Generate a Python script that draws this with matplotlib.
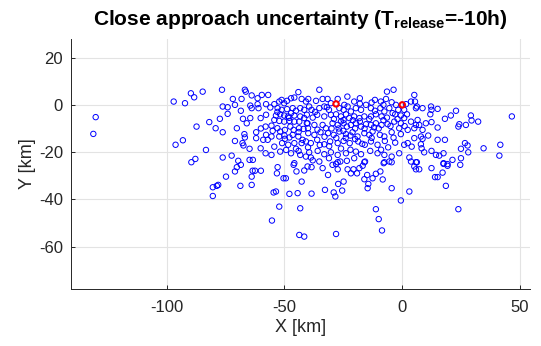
import numpy as np
import matplotlib.pyplot as plt

plt.rcParams['font.family'] = ['Liberation Sans', 'DejaVu Sans']
plt.rcParams['mathtext.fontset'] = 'custom'
plt.rcParams['mathtext.rm'] = 'Liberation Sans'
plt.rcParams['mathtext.bf'] = 'Liberation Sans:bold'
plt.rcParams['axes.unicode_minus'] = False

# close approach samples (km)
x_km = [
    -130.1, -131.1, -97.0, -92.2, -89.7, -88.3, -87.3, -93.1, -96.2, -87.8, -89.5,
    -84.7, -76.5, -66.8, -66.4, -71.9, -68.2, -63.9, -61.4, -59.6, -56.9,
    -76.2, -74.1, -74.1, -71.0, -68.5, -64.5, -63.9, -61.0, -61.4, -57.8, -56.0,
    -54.3, -52.2, -51.2, -50.1, -48.9, -47.2, -45.8, -44.1, -42.7, -40.9,
    -52.9, -51.2, -48.9, -46.5, -47.2, -45.1, -43.3, -41.6,
    -57.8, -53.6, -51.8, -50.1, -48.4, -45.8, -43.3,
    -54.3, -52.2, -50.1, -47.9, -45.8, -43.7, -41.6, -40.5,
    -81.9, -79.2, -77.4, -76.2, -70.2, -67.6, -66.0, -64.5, -60.1, -58.0, -55.5,
    -53.0, -51.8, -49.8, -47.5, -46.1, -43.8, -41.9, -40.0,
    -67.0, -66.8, -62.0, -57.8, -62.0, -59.0, -57.1, -55.5, -52.2, -49.8, -47.9,
    -46.5, -44.1, -42.3, -42.7, -45.8, -48.4, -51.0, -54.3,
    -71.0, -67.8, -67.4, -64.8, -60.1, -58.0, -55.5, -51.8, -49.3, -47.2, -45.1,
    -43.3, -40.9, -83.3, -76.2, -72.4, -69.6, -64.8, -63.4, -45.8,
    -68.5, -70.2, -71.0, -74.8, -78.1, -78.7, -80.4, -80.4, -68.7, -63.9, -63.9,
    -63.5, -62.5, -60.0, -52.9, -53.2, -50.4, -49.4, -54.6, -53.6, -52.2, -55.3,
    -46.1, -44.9, -41.6, -42.7, -47.9, -44.4, -43.3, -43.7, -41.6,
    -35.2, -6.5, -3.7, -39.9, -36.6, -33.8, -31.7, -30.3, -28.1, -27.4, -23.3,
    -20.4, -18.0, -15.4, -11.6, -9.1, -6.9, -4.5, -2.7, 0.0, 1.6, 3.7,
    -39.5, -38.5, -35.2, -33.1, -31.1, -26.7, -24.6, -24.9, -23.2, -21.8, -19.7,
    -17.5, -13.3, -11.6, -9.3, -7.6, -5.5, -1.7, 0.8, 5.8,
    -40.5, -38.0, -36.1, -33.1, -30.3, -28.1, -26.0, -23.9, -24.9, -22.5, -20.4,
    -18.2, -16.1, -13.3, -11.2, -8.8, -6.5, -4.1, -0.6, 0.8, 3.7, 5.8,
    -40.2, -37.3, -33.8, -32.4, -29.6, -27.4, -24.9, -23.5, -21.8, -19.7, -17.5,
    -15.4, -13.3, -11.2, -8.8, -6.2, -3.4, -0.6, -1.3, 2.3, 5.1,
    -39.9, -37.3, -34.7, -31.5, -29.1, -26.7, -23.9, -21.1, -19.0, -16.1, -14.0,
    -12.6, -9.5, -7.6, -4.5, -0.6, 5.1,
    -40.9, -38.8, -36.1, -33.1, -30.6, -27.4, -24.9, -22.3, -18.7, -15.9, -13.3,
    -10.5, -7.4, -3.7, 0.8, 2.3, 4.0,
    -39.5, -35.9, -33.1, -30.3, -27.4, -23.9, -19.7, -17.5, -13.6, -10.5, -7.6,
    -4.5, -1.3, -38.8, -35.2, -31.1, -27.4, -23.5, -20.4, -16.1, -7.6, -4.5,
    3.0, 5.8,
    -40.2, -38.5, -33.8, -31.5, -29.6, -28.1, -27.4, -26.3, -23.2, -21.8, -20.7,
    -19.2, -18.2, -16.8, -15.8, -16.1, -14.9, -14.4, -14.7, -12.6, -11.2, -9.3,
    -8.3, -7.9, -5.5, -4.5, -27.2, -24.9, -25.5, -29.1, -28.4, -32.8, -38.5,
    -28.1, -11.2, -10.0, -8.6, -0.6, 3.0, 5.1, 5.8, 3.7,
    5.1, 5.4, 6.2, 8.6, 12.2, 12.4, 11.9, 15.0, 22.8, 20.6, 18.1, 29.1, 29.4,
    32.2, 27.0, 24.2, 23.8, 46.5, 6.5, 10.0, 12.4, 7.2, 15.0, 8.6, 7.9, 11.0,
    8.6, 15.0, 18.1, 7.9, 8.2, 9.3, 12.4, 14.3, 15.7, 17.5, 24.9, 26.6, 27.7,
    28.0, 24.9, 21.3, 19.2, 17.5, 34.5, 41.6, 41.2, 6.2,
    7.2, 12.4, 13.9, 15.0, 17.1, 17.5, 19.2, 24.6, 18.5, 23.8,
    # packed core
    -29.0, -27.0, -25.0, -22.0, -20.0, -18.0, -16.0, -14.0, -12.0, -21.0, -26.0,
    -30.0, -33.0, -28.0, -24.0, -20.0, -17.0, -13.0, -10.0, -8.0, -5.0, -2.0,
    1.0, -3.0, -6.0, -9.0, -26.0, -22.0, -31.0, -36.0, -37.0, -32.0, -18.0,
    -13.0, -8.0, -3.0, 2.0, -35.0, -40.0, -44.0, -48.0, -50.0, -55.0, -53.0,
    -60.0, -44.0, -38.0,
]
y_km = [
    -5.2, -12.3, 1.4, 0.7, 4.9, 3.2, -9.2, -15.0, -16.9, -22.9, -24.3,
    5.6, 6.4, 6.4, 5.6, 2.5, 2.5, 4.0, 2.8, 4.2, 4.2,
    -0.7, -1.0, -3.8, 0.0, -2.5, -0.3, -1.4, -1.4, 0.3, 0.3, -1.1,
    0.3, 1.4, 2.1, 0.7, 1.7, 2.8, 3.1, 5.4, 2.5, 1.4,
    -1.4, -2.1, -1.8, -1.4, -3.5, -2.5, -1.4, -2.1,
    -4.2, -4.5, -4.0, -4.5, -4.9, -4.5, -4.9,
    -6.4, -6.8, -7.1, -6.8, -7.1, -7.1, -5.6, -7.8,
    -7.3, -9.9, -5.9, -11.6, -9.9, -5.9, -7.8, -5.6, -5.6, -9.2, -8.8,
    -9.9, -11.3, -10.6, -9.2, -10.6, -9.9, -10.2, -9.9,
    -12.4, -13.8, -11.6, -12.7, -14.1, -14.8, -14.8, -13.4, -13.4, -14.4, -13.8,
    -12.7, -13.4, -14.8, -16.2, -16.2, -16.9, -16.2, -17.7,
    -15.3, -16.2, -17.2, -18.6, -18.4, -20.5, -21.2, -19.8, -19.1, -20.5, -18.6,
    -21.2, -21.9, -19.1, -22.3, -21.5, -23.7, -23.3, -23.3, -24.7,
    -25.4, -26.4, -28.2, -30.4, -33.9, -34.3, -34.9, -38.6, -34.3, -30.4, -33.9,
    -27.9, -27.9, -27.9, -26.4, -29.0, -31.1, -31.1, -37.1, -36.7, -43.1, -49.0,
    -25.4, -28.2, -27.8, -32.5, -37.7, -37.4, -43.8, -55.1, -55.8,
    6.4, 5.6, 6.4, 2.5, 1.7, 2.5, 2.5, 0.7, 0.4, 2.5, 3.5,
    1.4, 2.8, 0.0, 2.1, 1.4, 2.5, 1.1, 0.0, 0.0, 0.3, 1.4,
    -0.7, -2.1, -1.4, -0.7, -2.1, -1.4, 0.0, -2.1, -0.7, -2.8, -1.4,
    -2.1, -1.4, -2.5, -1.4, -2.8, -1.4, -2.1, -2.1, -1.4,
    -4.2, -5.4, -4.2, -4.9, -4.2, -4.0, -4.9, -4.0, -6.4, -5.6, -4.9,
    -5.6, -4.9, -4.9, -4.0, -4.9, -5.4, -3.5, -4.5, -5.6, -7.1, -8.5,
    -7.8, -8.5, -8.5, -9.9, -7.8, -8.5, -7.8, -9.2, -8.5, -7.8, -9.2,
    -8.2, -8.5, -7.8, -8.5, -8.2, -7.1, -7.8, -9.9, -10.6, -9.9,
    -12.0, -12.7, -11.6, -12.0, -12.7, -11.3, -12.4, -11.6, -13.4, -12.0, -12.7,
    -11.3, -12.7, -13.4, -11.6, -12.4, -14.1,
    -15.5, -16.2, -14.8, -16.7, -15.5, -16.2, -15.3, -16.2, -15.5, -16.9, -15.5,
    -16.9, -15.3, -13.9, -16.9, -16.2, -17.7,
    -20.1, -19.5, -20.9, -20.1, -21.2, -20.5, -19.8, -20.9, -19.5, -20.5, -21.2,
    -21.9, -20.5, -22.3, -24.0, -22.6, -24.3, -23.7, -22.6, -24.3, -24.3, -24.3,
    -22.3, -24.3,
    -26.1, -26.4, -26.8, -29.7, -25.4, -25.0, -27.3, -24.0, -27.3, -29.0, -27.3,
    -29.0, -26.8, -25.8, -24.0, -31.5, -29.7, -33.5, -35.3, -31.1, -29.2, -28.2,
    -31.6, -24.7, -24.0, -35.3, -33.5, -32.5, -36.3, -37.1, -38.8, -36.0, -37.6,
    -54.7, -44.2, -48.4, -53.2, -40.5, -36.7, -26.1, -27.3, -24.0,
    4.2, 1.4, -0.7, -1.4, -0.7, -2.1, -4.0, -1.7, -2.5, -4.5, -5.9, -4.5, -6.6,
    -7.1, -8.5, -8.2, -9.2, -4.9, -6.4, -7.8, -7.3, -8.5, -9.6, -10.6, -13.4, -13.0,
    -14.4, -14.8, -14.8, -16.7, -18.4, -20.1, -19.5, -21.2, -21.5, -20.5, -18.6, -16.2, -17.2,
    -20.1, -22.6, -23.3, -25.1, -24.7, -18.4, -16.9, -21.5, -24.3,
    -27.3, -26.8, -30.6, -30.6, -28.7, -25.0, -25.8, -25.4, -34.3, -44.2,
    # packed core
    -6.0, -10.0, -11.0, -13.0, -10.0, -7.0, -10.0, -6.0, -9.5, -6.5, -7.0,
    -10.0, -13.5, -14.0, -14.0, -14.5, -16.5, -14.0, -10.0, -6.5, -9.0, -6.0,
    -9.0, -16.0, -18.0, -19.0, -18.5, -19.0, -17.5, -10.5, -3.0, -1.0, 0.5,
    1.0, 0.0, -4.0, -4.0, -17.0, -18.0, -11.5, -5.5, -13.0, -11.0, -3.0,
    -10.0, -19.5, -23.5,
]

# reference trajectories, drawn in red
ref_x = [-28.1, 0.0]
ref_y = [0.4, 0.0]

fig = plt.figure(figsize=(5.41, 3.46), dpi=100)
ax = fig.add_axes([70.7 / 541, 57 / 346, (530 - 70.7) / 541, (289 - 39) / 346])

ax.scatter(x_km, y_km, s=15, facecolors='none', edgecolors='#0000ff', linewidths=0.7, zorder=3)
ax.scatter(ref_x, ref_y, s=15, facecolors='none', edgecolors='#ff0000', linewidths=1.5, zorder=4)

ax.set_xlim(-140.7, 54.2)
ax.set_ylim(-78.0, 27.9)
ax.set_xticks([-100, -50, 0, 50])
ax.set_yticks([-60, -40, -20, 0, 20])
ax.grid(True, color='#e3e3e3', linewidth=0.8)
ax.set_axisbelow(True)
for side in ['top', 'right']:
    ax.spines[side].set_visible(False)
for side in ['left', 'bottom']:
    ax.spines[side].set_color('#262626')
    ax.spines[side].set_linewidth(0.7)
ax.tick_params(direction='in', length=3, width=0.7, colors='#262626', labelsize=12)
ax.tick_params(axis='x', pad=8)
ax.tick_params(axis='y', pad=5.5)

ax.set_xlabel('X [km]', fontsize=13, color='#262626', labelpad=3)
ax.set_ylabel('Y [km]', fontsize=13, color='#262626', labelpad=2)
ax.set_title(r'Close approach uncertainty (T$_\mathbf{release}$=-10h)',
             fontsize=15, fontweight='bold', pad=10)

fig.savefig('out.png', dpi=100)
